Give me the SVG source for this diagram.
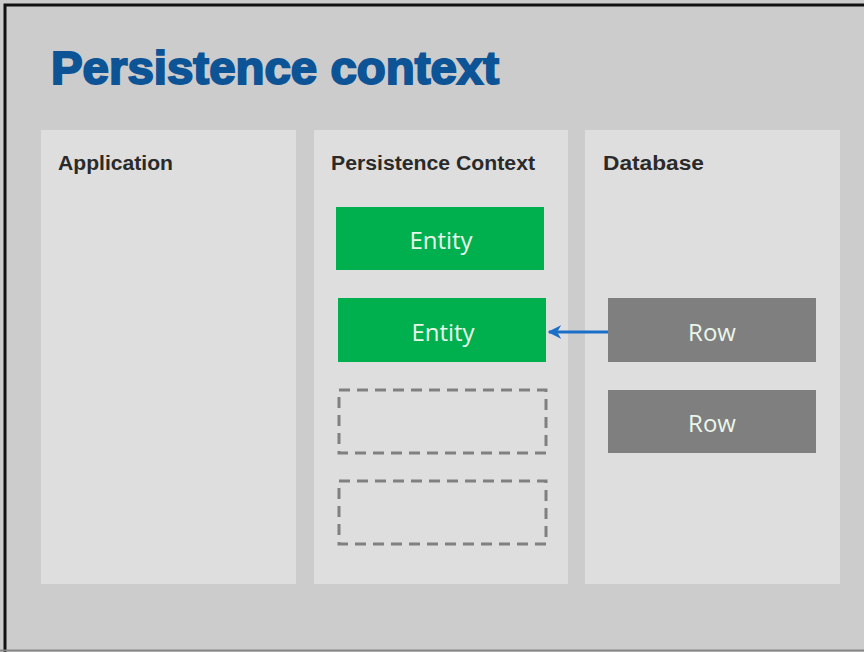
<svg xmlns="http://www.w3.org/2000/svg" width="864" height="652" viewBox="0 0 864 652">
<defs>
<style>
.panel{fill:#dedede}
.lbl{font-family:"Liberation Sans",Arial,sans-serif;font-size:20px;font-weight:bold;fill:#2a2a2a}
.ent{fill:#00b04f}
.row{fill:#7f7f7f}
.btxt{font-family:"Open Sans","Liberation Sans",sans-serif;font-size:24px;fill:#eaf6ea;text-anchor:middle}
.dash{fill:none;stroke:#808080;stroke-width:3;stroke-dasharray:11 7}
</style>
<marker id="ah" viewBox="0 0 10 10" refX="9" refY="5" markerWidth="4.5" markerHeight="4.5" orient="auto"><path d="M10,5 L0,0 L3,5 L0,10 Z" fill="#1c6fc7"/></marker>
</defs>
<rect x="0" y="0" width="864" height="652" fill="#cccccc"/>
<path d="M5,652 L5,5 L864,5" fill="none" stroke="#111" stroke-width="3"/>
<line x1="0" y1="650.5" x2="864" y2="650.5" stroke="#888" stroke-width="2"/>
<text x="51" y="84" font-family="Liberation Sans,Arial,sans-serif" font-size="46" font-weight="bold" fill="#0d5496" stroke="#0d5496" stroke-width="2" textLength="448" lengthAdjust="spacingAndGlyphs">Persistence context</text>
<g id="application"><rect class="panel" x="41" y="130" width="255" height="454"/><text class="lbl" x="58" y="170" textLength="115" lengthAdjust="spacingAndGlyphs">Application</text></g>
<g id="persistence-context"><rect class="panel" x="314" y="130" width="254" height="454"/><text class="lbl" x="331" y="170" textLength="204" lengthAdjust="spacingAndGlyphs">Persistence Context</text></g>
<g id="database"><rect class="panel" x="585" y="130" width="255" height="454"/><text class="lbl" x="603" y="170" textLength="101" lengthAdjust="spacingAndGlyphs">Database</text></g>
<g id="entity1"><rect class="ent" x="336" y="207" width="208" height="63"/><text class="btxt" x="441" y="249">Entity</text></g>
<g id="entity2"><rect class="ent" x="338" y="298" width="208" height="64"/><text class="btxt" x="443" y="341">Entity</text></g>
<g id="empty1"><rect class="dash" x="339" y="390" width="207" height="63"/></g>
<g id="empty2"><rect class="dash" x="339" y="481" width="207" height="63"/></g>
<g id="row1"><rect class="row" x="608" y="298" width="208" height="64"/><text class="btxt" x="712" y="341">Row</text></g>
<g id="row2"><rect class="row" x="608" y="390" width="208" height="63"/><text class="btxt" x="712" y="432">Row</text></g>
<g id="connectors"><line x1="608" y1="332" x2="549" y2="332" stroke="#1c6fc7" stroke-width="3" marker-end="url(#ah)"/></g>
</svg>
